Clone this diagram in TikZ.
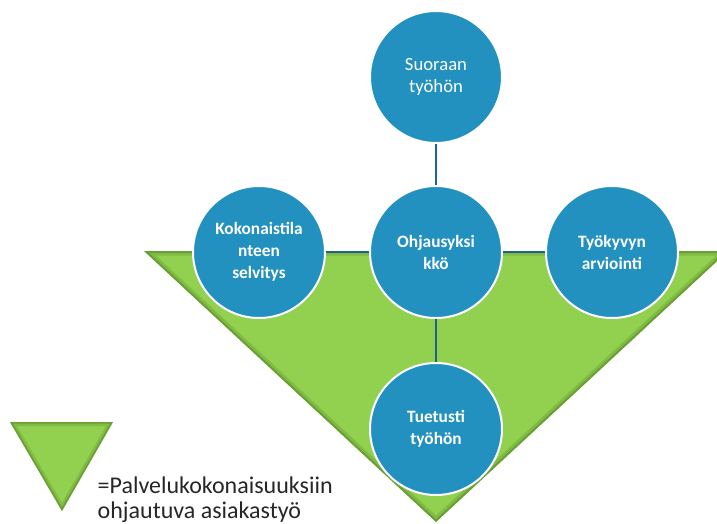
\documentclass[tikz,border=0pt]{standalone}
\usepackage{fontspec}
\setmainfont{Carlito}
\usepackage{xcolor}
\definecolor{ballblue}{RGB}{35,145,192}
\definecolor{linkblue}{RGB}{30,98,142}
\definecolor{leafgreen}{RGB}{146,208,80}
\definecolor{darkleaf}{RGB}{80,125,35}
\definecolor{inkgray}{RGB}{38,38,38}

\begin{document}
\begin{tikzpicture}[x=0.75pt,y=-0.75pt,
  ball/.style={circle,draw=white,line width=1.5pt,fill=ballblue,minimum size=99pt,inner sep=0pt,
    text=white,align=center,font=\fontsize{13}{16.5}\selectfont\bfseries},
  topball/.style={ball,font=\fontsize{14}{17}\selectfont},
  link/.style={draw=linkblue,line width=1.5pt}]
  \useasboundingbox (0,0) rectangle (717,524);
  \clip (0,0) rectangle (717,524);
  % big triangle
  \fill[leafgreen] (144,251) -- (728,251) -- (436,522) -- cycle;
  \begin{scope}
    \clip (144,251) -- (728,251) -- (436,522) -- cycle;
    \draw[darkleaf,opacity=0.25,line width=7pt] (144,251) -- (728,251) -- (436,522) -- cycle;
    \draw[darkleaf,opacity=0.45,line width=3pt] (144,251) -- (728,251) -- (436,522) -- cycle;
  \end{scope}
  % legend triangle
  \fill[leafgreen] (10,422) -- (113,422) -- (62,511) -- cycle;
  \begin{scope}
    \clip (10,422) -- (113,422) -- (62,511) -- cycle;
    \draw[darkleaf,opacity=0.25,line width=6pt] (10,422) -- (113,422) -- (62,511) -- cycle;
    \draw[darkleaf,opacity=0.45,line width=2.5pt] (10,422) -- (113,422) -- (62,511) -- cycle;
  \end{scope}
  \node[anchor=west,align=left,text=inkgray,font=\fontsize{18}{18.5}\selectfont] (legend) at (93,500)
    {=Palvelukokonaisuuksiin\\ohjautuva asiakastyö};

  \node[topball] (S) at (436,77) {Suoraan\\työhön};
  \node[ball] (O) at (436,252) {Ohjausyksi\\kkö};
  \node[ball] (K) at (259,252) {Kokonaistila\\nteen\\selvitys};
  \node[ball] (T) at (612,252) {Työkyvyn\\arviointi};
  \node[ball] (U) at (436,429) {Tuetusti\\työhön};

  \draw[link] (S) -- (O);
  \draw[link] (O) -- (U);
  \draw[link] (K) -- (O);
  \draw[link] (O) -- (T);
\end{tikzpicture}
\end{document}
